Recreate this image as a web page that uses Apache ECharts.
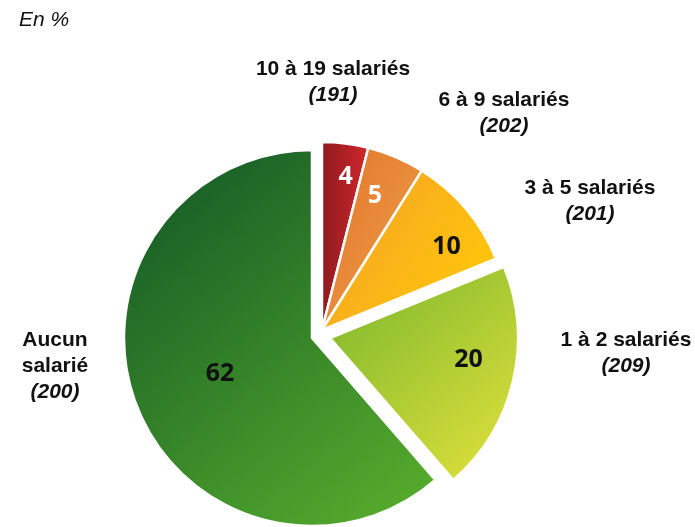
<!DOCTYPE html>
<html>
<head>
<meta charset="utf-8">
<script src="https://cdn.jsdelivr.net/npm/echarts@6/dist/echarts.min.js"></script>
<style>
html,body{margin:0;padding:0;background:#fff;}
#c{width:695px;height:527px;}
</style>
</head>
<body>
<div id="c"></div>
<script>
// ---- data ----
var categories = ['10 à 19 salariés', '6 à 9 salariés', '3 à 5 salariés', '1 à 2 salariés', 'Aucun salarié'];
var labelLines = [['10 à 19 salariés'], ['6 à 9 salariés'], ['3 à 5 salariés'], ['1 à 2 salariés'], ['Aucun', 'salarié']];
var values = [4, 5, 10, 20, 62];
var counts = ['191', '202', '201', '209', '200'];

// ---- styles / layout ----
var R = 188;
var gradients = [
  ['#8c1a1f', '#d3272b', 1, 0],
  ['#e2732b', '#ea923e', 1, 0.3],
  ['#f59e28', '#ffc80a', 1, 0.7],
  ['#78b62c', '#e4e23c', 1, 1],
  ['#0f5426', '#5ab12c', 1, 1]
];
var innerColors = ['#ffffff', '#ffffff', '#111111', '#111111', '#111111'];
// inner label placement: [fraction of radius, angle in degrees clockwise from top]
var innerPolar = [[0.81, 8.8], [0.75, 21.5], [0.78, 56.5], [0.73, 98.8], [0.51, 248.5]];
var groups = [
  {center: [322, 330], items: [0, 1, 2]},
  {center: [330, 338], items: [3]},
  {center: [312, 338], items: [4]}
];
var outerPos = [[333, 82], [504, 113], [590, 201], [626, 353], [55, 366]];

var total = values.reduce(function (a, b) { return a + b; }, 0);
function midAngleFromTop(i) {
  var before = 0;
  for (var k = 0; k < i; k++) before += values[k];
  return (before + values[i] / 2) / total * 360;
}
function dirFromTop(deg) {
  var r = deg * Math.PI / 180;
  return [Math.sin(r), -Math.cos(r)];
}
function grad(i) {
  var g = gradients[i];
  return new echarts.graphic.LinearGradient(0, 0, g[2], g[3], [
    {offset: 0, color: g[0]}, {offset: 1, color: g[1]}
  ]);
}

var series = groups.map(function (grp) {
  return {
    type: 'pie',
    center: grp.center,
    radius: [0, R],
    startAngle: 90,
    clockwise: true,
    silent: true,
    animation: false,
    emphasis: {disabled: true},
    labelLine: {show: false},
    data: values.map(function (v, i) {
      if (grp.items.indexOf(i) >= 0) {
        var d0 = dirFromTop(midAngleFromTop(i));
        var d1 = dirFromTop(innerPolar[i][1]);
        var r1 = innerPolar[i][0] * R, r0 = R / 2;
        return {
          value: v, name: categories[i],
          itemStyle: {color: grad(i), borderColor: '#ffffff', borderWidth: 2.5},
          label: {
            show: true, position: 'inside',
            formatter: String(v),
            color: innerColors[i],
            fontFamily: 'Open Sans', fontWeight: 'bold', fontSize: 25,
            offset: [d1[0] * r1 - d0[0] * r0, d1[1] * r1 - d0[1] * r0]
          }
        };
      }
      return {
        value: v, name: categories[i],
        itemStyle: {color: 'rgba(0,0,0,0)', borderWidth: 0},
        label: {show: false}
      };
    })
  };
});

// outer labels (invisible pie carrying the category texts)
series.push({
  type: 'pie',
  center: [322, 338],
  radius: [0, R],
  startAngle: 90,
  clockwise: true,
  silent: true,
  animation: false,
  emphasis: {disabled: true},
  itemStyle: {color: 'rgba(0,0,0,0)', borderWidth: 0},
  labelLine: {show: false},
  label: {
    show: true,
    position: 'outside',
    align: 'center',
    overflow: 'none',
    width: 220,
    formatter: function (p) {
      var i = p.dataIndex;
      return labelLines[i].map(function (t) { return '{a|' + t + '}'; }).join('\n') + '\n{b|(' + counts[i] + ')}';
    },
    rich: {
      a: {fontFamily: 'Liberation Sans, Arial', fontWeight: 'bold', fontSize: 21, color: '#111', lineHeight: 26, align: 'center'},
      b: {fontFamily: 'Liberation Sans, Arial', fontWeight: 'bold', fontStyle: 'italic', fontSize: 21, color: '#111', lineHeight: 26, align: 'center'}
    }
  },
  labelLayout: function (p) {
    var pos = outerPos[p.dataIndex];
    return {x: pos[0], y: pos[1], align: 'center', verticalAlign: 'middle'};
  },
  data: values.map(function (v, i) { return {value: v, name: categories[i]}; })
});

var chart = echarts.init(document.getElementById('c'), null, {renderer: 'canvas'});
chart.setOption({
  backgroundColor: '#ffffff',
  animation: false,
  title: {
    text: 'En %', left: 14, top: 5,
    textStyle: {fontFamily: 'Liberation Sans, Arial', fontStyle: 'italic', fontWeight: 'normal', fontSize: 21, color: '#111'}
  },
  series: series
});
</script>
</body>
</html>
